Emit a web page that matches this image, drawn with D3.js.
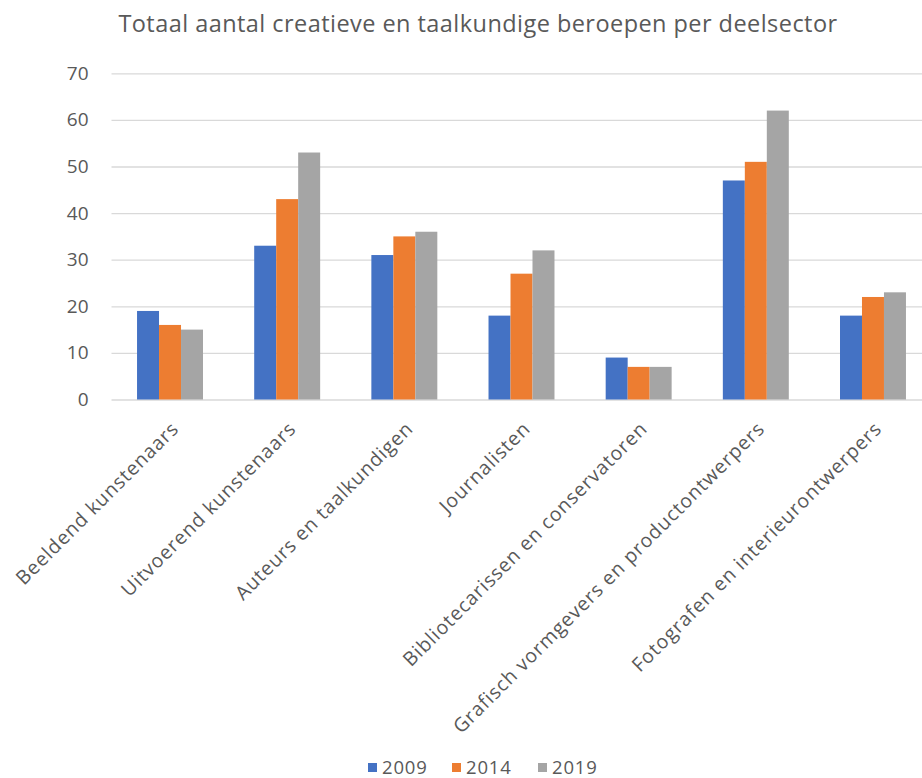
<!DOCTYPE html>
<html lang="nl">
<head>
<meta charset="UTF-8">
<title>Totaal aantal creatieve en taalkundige beroepen per deelsector</title>
<script src="https://d3js.org/d3.v7.min.js"></script>
<style>
  body { margin: 0; background: #fff; }
  svg { display: block; font-family: "Open Sans", "Noto Sans", sans-serif; }
</style>
</head>
<body>
<div id="chart"></div>
<script>
// data
const categories = [
  "Beeldend kunstenaars",
  "Uitvoerend kunstenaars",
  "Auteurs en taalkundigen",
  "Journalisten",
  "Bibliotecarissen en conservatoren",
  "Grafisch vormgevers en productontwerpers",
  "Fotografen en interieurontwerpers"
];
const years = ["2009", "2014", "2019"];
const values2009 = [19, 33, 31, 18, 9, 47, 18];
const values2014 = [16, 43, 35, 27, 7, 51, 22];
const values2019 = [15, 53, 36, 32, 7, 62, 23];
const yTicks = [0, 10, 20, 30, 40, 50, 60, 70];
const colors = ["#4472C4", "#ED7D31", "#A5A5A5"];

const width = 922, height = 778;
const textColor = "#595959";
const gridColor = "#D9D9D9";

const series = [values2009, values2014, values2019];

const svg = d3.select("#chart").append("svg")
    .attr("width", width)
    .attr("height", height);

// title
svg.append("text")
    .attr("x", 478)
    .attr("y", 32)
    .attr("text-anchor", "middle")
    .attr("font-size", 23.5)
    .attr("letter-spacing", 0.45)
    .attr("fill", textColor)
    .text("Totaal aantal creatieve en taalkundige beroepen per deelsector");

const plotLeft = 111.5, plotRight = 931.5, plotTop = 73.3, plotBottom = 399.5;

const x = d3.scaleBand()
    .domain(categories)
    .range([plotLeft, plotRight])
    .paddingInner(0.437)
    .paddingOuter(0.218);

const xSub = d3.scaleBand()
    .domain(years)
    .range([0, x.bandwidth()]);

const y = d3.scaleLinear()
    .domain([0, 70])
    .range([plotBottom, plotTop]);

// gridlines + y labels
const yAxis = svg.append("g")
    .attr("transform", "translate(" + plotLeft + ",0)")
    .call(d3.axisLeft(y).tickValues(yTicks).tickSize(-(plotRight - plotLeft)).tickPadding(23));
yAxis.select(".domain").remove();
yAxis.selectAll(".tick line").attr("stroke", gridColor).attr("stroke-width", 1.3);
yAxis.selectAll(".tick text")
    .attr("fill", textColor)
    .attr("font-size", 19)
    .attr("font-family", "'Open Sans', 'Noto Sans', sans-serif");

// bars
const groups = svg.append("g").selectAll("g")
    .data(categories)
    .join("g")
    .attr("transform", d => "translate(" + x(d) + ",0)");

groups.selectAll("rect")
    .data((d, i) => years.map((yr, k) => ({ year: yr, value: series[k][i], k: k })))
    .join("rect")
    .attr("x", d => xSub(d.year))
    .attr("width", xSub.bandwidth())
    .attr("y", d => y(d.value))
    .attr("height", d => y(0) - y(d.value))
    .attr("fill", d => colors[d.k]);

// category labels, rotated
svg.append("g").selectAll("text")
    .data(categories)
    .join("text")
    .attr("transform", d => "translate(" + (x(d) + x.bandwidth() / 2 + 10) + ",430) rotate(-45)")
    .attr("text-anchor", "end")
    .attr("font-size", 19.5)
    .attr("letter-spacing", 0.85)
    .attr("fill", textColor)
    .text(d => d);

// legend
const legendX = [368, 452, 538];
const legend = svg.append("g").selectAll("g")
    .data(years)
    .join("g")
    .attr("transform", (d, i) => "translate(" + legendX[i] + ",763)");
legend.append("rect")
    .attr("width", 9)
    .attr("height", 9)
    .attr("fill", (d, i) => colors[i]);
legend.append("text")
    .attr("x", 14)
    .attr("y", 10.5)
    .attr("font-size", 18.5)
    .attr("letter-spacing", 0.8)
    .attr("fill", textColor)
    .text(d => d);
</script>
</body>
</html>
